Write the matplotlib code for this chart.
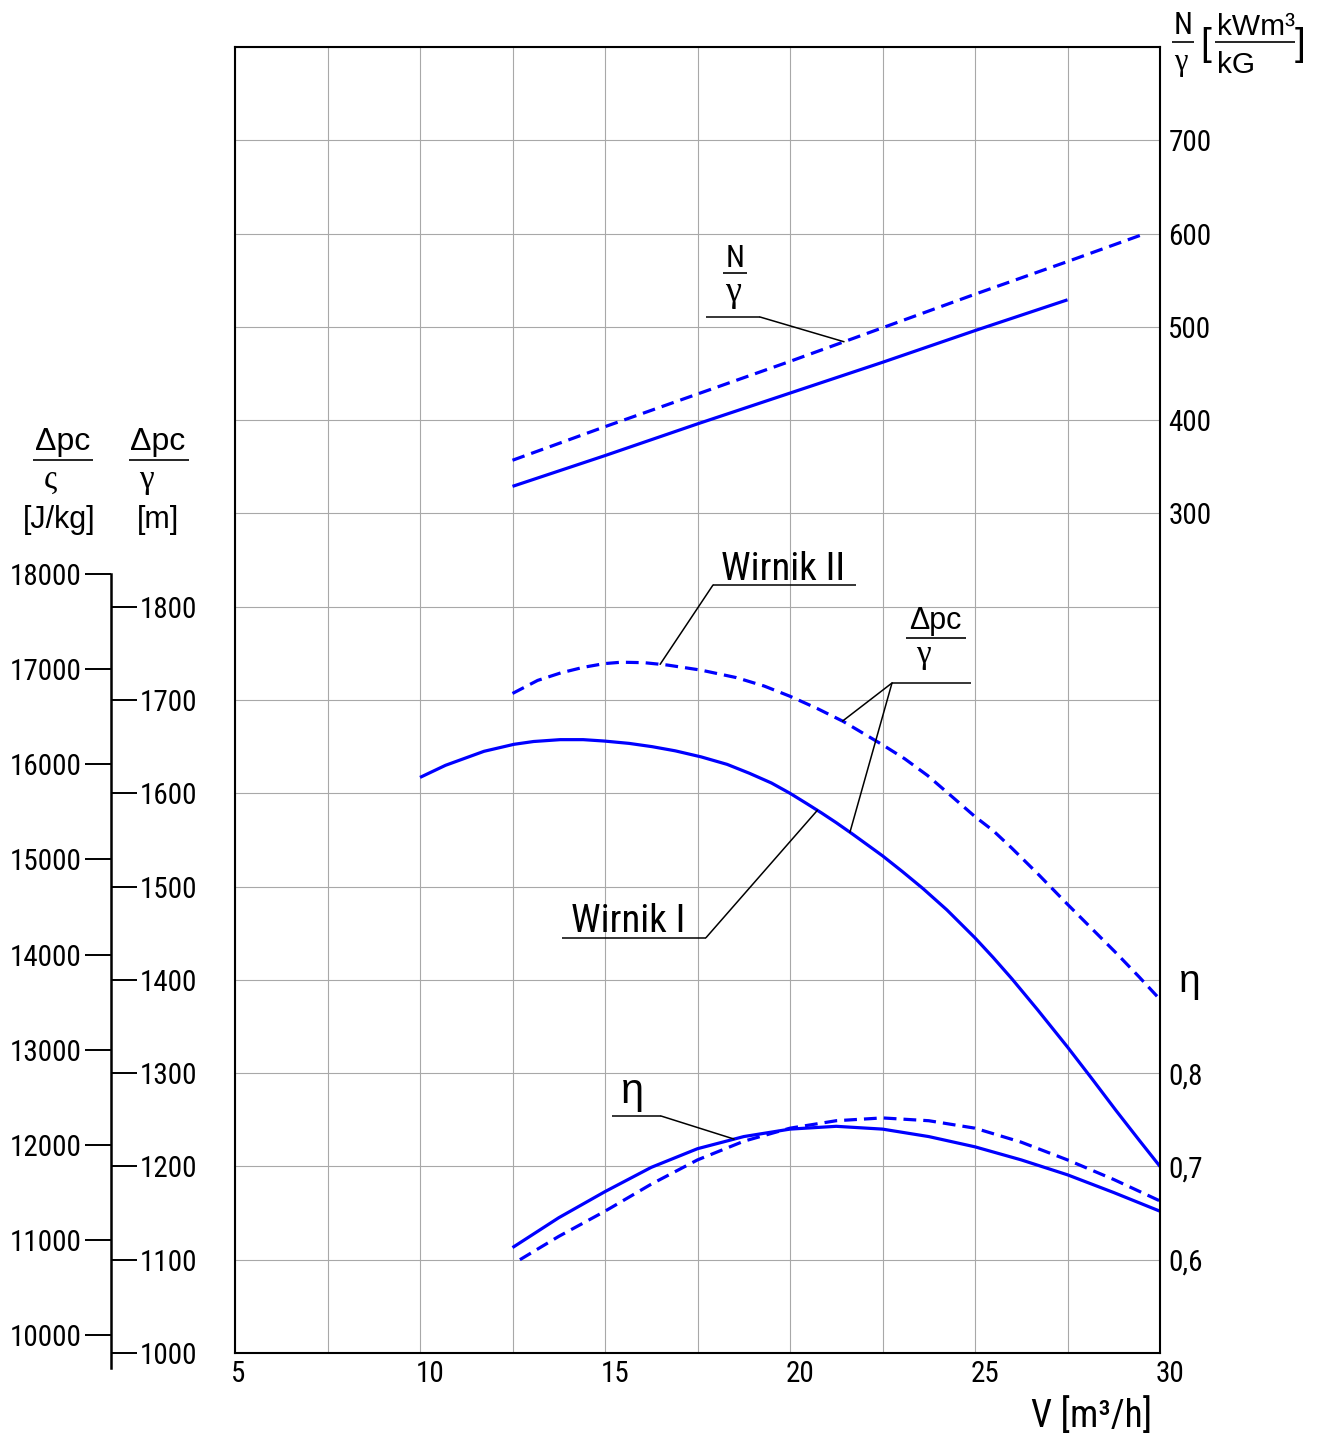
"""
Pump characteristic: head, N/gamma and efficiency vs. flow rate, two impellers.
"""

import matplotlib
matplotlib.use("Agg")
import matplotlib.pyplot as plt
import numpy as np
from matplotlib import font_manager
from matplotlib.lines import Line2D
from matplotlib.transforms import ScaledTranslation

WIDTH_PX, HEIGHT_PX = 1319, 1437
DPI = 100
BLUE = "#0000ff"
G = 9.81

# flow rate V [m3/h] and head dpc/gamma [m]
V_HEAD_I = [10.0, 10.69, 11.73, 12.54, 13.07, 13.79, 14.41, 14.98, 15.65, 16.27, 16.9, 17.6, 18.3, 18.9,
            19.5, 20.0, 20.45, 20.85, 21.25, 21.7, 22.1, 22.5, 23.04, 23.59, 24.24, 25.0, 25.49, 26.0,
            26.69, 27.5, 28.18, 28.81, 29.44, 30.0]
HEAD_I = [1617, 1630, 1645, 1652.5, 1655.5, 1657.5, 1657.5, 1656, 1653.5, 1650, 1645.5, 1639, 1631, 1621.5,
          1611, 1600, 1589, 1579, 1568.5, 1556, 1544.5, 1533, 1516, 1498, 1475, 1445, 1424, 1401,
          1368, 1328, 1293, 1260, 1228, 1200]
V_HEAD_II = [12.5, 13.18, 13.8, 14.41, 14.98, 15.44, 16.06, 16.68, 17.6, 18.55, 19.3, 20.0, 20.73, 21.44,
             22.5, 23.1, 23.72, 24.42, 25.0, 25.49, 26.0, 26.69, 27.5, 28.18, 28.81, 29.44, 30.0]
HEAD_II = [1707, 1721, 1729, 1735, 1739, 1740.5, 1740, 1737.5, 1732, 1724, 1715, 1704, 1691, 1677,
           1652, 1637, 1619, 1595, 1575, 1560, 1541, 1514, 1481, 1454, 1429, 1403, 1379]

# N/gamma [kWm3/kG]
V_POWER_I = [12.5, 15, 17.5, 20, 22.5, 25, 27.5]
POWER_I = [329, 362, 396, 429, 462, 496, 529]
V_POWER_II = [12.5, 15, 17.5, 20, 22.5, 25, 27.5, 29.6]
POWER_II = [357, 393, 428, 463, 499, 535, 570, 600]

# efficiency eta
V_EFF_I = [12.5, 13.75, 15, 16.25, 17.5, 18.75, 20, 21.25, 22.5, 23.75, 25, 26.25, 27.5, 28.75, 30]
EFF_I = [0.613, 0.645, 0.673, 0.699, 0.719, 0.732, 0.740, 0.743, 0.740, 0.732, 0.721, 0.707, 0.691, 0.672, 0.652]
V_EFF_II = [12.7, 13.75, 15, 16.25, 17.5, 18.75, 20, 21.25, 22.5, 23.75, 25, 26.25, 27.5, 28.75, 30]
EFF_II = [0.600, 0.625, 0.652, 0.681, 0.707, 0.727, 0.741, 0.749, 0.752, 0.749, 0.741, 0.726, 0.707, 0.686, 0.663]

X_TICKS = [5, 10, 15, 20, 25, 30]
HEAD_M_TICKS = [1000, 1100, 1200, 1300, 1400, 1500, 1600, 1700, 1800]
HEAD_J_TICKS = [10000, 11000, 12000, 13000, 14000, 15000, 16000, 17000, 18000]
POWER_TICKS = [300, 400, 500, 600, 700]
EFF_TICKS = [0.6, 0.7, 0.8]
EFF_LABELS = ["0,6", "0,7", "0,8"]

# the N/gamma and eta scales share the head grid
POWER_OFFSET = 1600.0
EFF_SCALE, EFF_OFFSET = 1000.0, 500.0

available = {f.name for f in font_manager.fontManager.ttflist}
NARROW = next((name for name in ["Roboto Condensed", "Liberation Sans Narrow", "Archivo Narrow", "PT Sans Narrow"]
               if name in available), "Liberation Sans")
SANS = "Liberation Sans"
SERIF = "Liberation Serif"
TICK_SIZE = 21 if NARROW != SANS else 18.5


def fx(x):
    return x / WIDTH_PX


def fy(y):
    return 1 - y / HEIGHT_PX


def hline(fig, x0, x1, y, lw=1.1):
    fig.add_artist(Line2D([fx(x0), fx(x1)], [fy(y), fy(y)], transform=fig.transFigure,
                          color="black", lw=lw, solid_capstyle="butt"))


def leader(ax, start, v, values_v, values_y):
    y = float(np.interp(v, values_v, values_y))
    ax.annotate("", xy=(v, y), xycoords="data", xytext=(fx(start[0]), fy(start[1])),
                textcoords="figure fraction",
                arrowprops=dict(arrowstyle="-", color="black", lw=1.1, shrinkA=0, shrinkB=0))


def label(fig, x, y, text, size, family=SANS, ha="center"):
    fig.text(fx(x), fy(y), text, fontsize=size, family=family, ha=ha, va="baseline")


def main():
    plt.rcParams["font.family"] = [NARROW, "DejaVu Sans"]

    fig = plt.figure(figsize=(WIDTH_PX / DPI, HEIGHT_PX / DPI), dpi=DPI)
    ax = fig.add_axes([fx(235), fy(1353), fx(1160) - fx(235), fy(47) - fy(1353)])

    ax.set_xlim(5, 30)
    ax.set_ylim(1000, 2400)
    ax.set_xticks(X_TICKS)
    ax.set_xticks(np.arange(7.5, 30, 5), minor=True)
    ax.set_yticks(np.arange(1000, 2401, 100))
    ax.grid(True, which="both", color="#a8a8a8", lw=0.8)
    ax.set_axisbelow(True)
    ax.tick_params(axis="y", left=False, labelleft=False)
    ax.tick_params(axis="x", which="both", length=0, pad=5, labelsize=TICK_SIZE)
    shift = ScaledTranslation(-4 / DPI, 0, fig.dpi_scale_trans)
    for lab in ax.get_xticklabels():
        lab.set_horizontalalignment("left")
        lab.set_transform(lab.get_transform() + shift)
    for spine in ax.spines.values():
        spine.set_linewidth(1.5)

    ax.set_xlabel("V [m³/h]", fontsize=27, loc="right")
    ax.xaxis.set_label_coords((1152 - 235) / 925, -0.034)

    # curves
    eff_i = [e * EFF_SCALE + EFF_OFFSET for e in EFF_I]
    eff_ii = [e * EFF_SCALE + EFF_OFFSET for e in EFF_II]
    power_i = [p + POWER_OFFSET for p in POWER_I]
    power_ii = [p + POWER_OFFSET for p in POWER_II]
    solid = dict(color=BLUE, lw=2.3, solid_capstyle="butt", solid_joinstyle="round")
    dashed = dict(color=BLUE, lw=2.3, ls=(0, (4, 2.2)), dash_capstyle="butt")
    ax.plot(V_HEAD_I, HEAD_I, **solid)
    ax.plot(V_HEAD_II, HEAD_II, **dashed)
    ax.plot(V_POWER_I, power_i, **solid)
    ax.plot(V_POWER_II, power_ii, **dashed)
    ax.plot(V_EFF_I, eff_i, **solid)
    ax.plot(V_EFF_II, eff_ii, **dashed)

    # left scales: J/kg (ticks left) and m (ticks right) on one line
    loc = (111 - 235) / 925
    sec_j = ax.secondary_yaxis(loc, functions=(lambda m: m * G, lambda j: j / G))
    sec_j.set_yticks(HEAD_J_TICKS)
    sec_j.tick_params(axis="y", direction="out", length=19, width=1.4, pad=2, labelsize=TICK_SIZE)
    sec_j.spines["left"].set_linewidth(1.8)
    sec_j.spines["left"].set_bounds(9650, 18000)

    sec_m = ax.secondary_yaxis(loc)
    sec_m.set_alignment("right")
    sec_m.set_yticks(HEAD_M_TICKS)
    sec_m.tick_params(axis="y", direction="out", length=19, width=1.4, pad=2, labelsize=TICK_SIZE)
    sec_m.spines["right"].set_visible(False)

    # right scales
    sec_n = ax.secondary_yaxis("right", functions=(lambda m: m - POWER_OFFSET, lambda n: n + POWER_OFFSET))
    sec_n.set_yticks(POWER_TICKS)
    sec_n.tick_params(axis="y", length=0, pad=6, labelsize=TICK_SIZE)
    sec_n.spines["right"].set_visible(False)

    sec_e = ax.secondary_yaxis("right", functions=(lambda m: (m - EFF_OFFSET) / EFF_SCALE,
                                                   lambda e: e * EFF_SCALE + EFF_OFFSET))
    sec_e.set_yticks(EFF_TICKS, EFF_LABELS)
    sec_e.tick_params(axis="y", length=0, pad=6, labelsize=TICK_SIZE)
    sec_e.spines["right"].set_visible(False)

    label(fig, 1190, 992, "η", 28)

    # header of the N/gamma scale
    label(fig, 1183, 34, "N", 22, NARROW)
    hline(fig, 1172, 1194, 41.7, lw=1.2)
    label(fig, 1181, 70, "γ", 22, SERIF)
    label(fig, 1206, 55, "[", 28)
    label(fig, 1256, 35, "kWm³", 21.5)
    hline(fig, 1215, 1295, 42.3, lw=1.2)
    label(fig, 1236, 73, "kG", 21.5)
    label(fig, 1300, 55, "]", 28)

    # headers of the left scales
    label(fig, 63, 450, "Δpc", 23)
    hline(fig, 33, 93, 460, lw=1.2)
    label(fig, 50, 488, "ς", 24, SERIF)
    label(fig, 59, 528, "[J/kg]", 22)
    label(fig, 158, 450, "Δpc", 23)
    hline(fig, 129, 189, 460, lw=1.2)
    label(fig, 146, 488, "γ", 24, SERIF)
    label(fig, 158, 528, "[m]", 22)

    # N/gamma annotation
    label(fig, 735, 267, "N", 22, NARROW)
    hline(fig, 723, 746.5, 273.3, lw=1.2)
    label(fig, 733, 301, "γ", 26, SERIF)
    hline(fig, 706, 760, 317)
    leader(ax, (760, 317), 21.46, V_POWER_II, power_ii)

    # Wirnik II
    label(fig, 783, 580, "Wirnik II", 28, NARROW)
    hline(fig, 713, 856, 585)
    leader(ax, (713, 585), 16.49, V_HEAD_II, HEAD_II)

    # dpc/gamma annotation
    label(fig, 935, 629.3, "Δpc", 22)
    hline(fig, 906, 966, 638.3, lw=1.2)
    label(fig, 923, 663, "γ", 24, SERIF)
    hline(fig, 892, 971, 683)
    leader(ax, (892, 683), 21.42, V_HEAD_II, HEAD_II)
    leader(ax, (892, 683), 21.62, V_HEAD_I, HEAD_I)

    # Wirnik I
    label(fig, 628, 932, "Wirnik I", 28, NARROW)
    hline(fig, 562, 706, 937.7)
    leader(ax, (706, 937.7), 20.74, V_HEAD_I, HEAD_I)

    # eta annotation
    label(fig, 632, 1103, "η", 30)
    hline(fig, 612, 661, 1116)
    leader(ax, (661, 1116), 18.49, V_EFF_I, eff_i)

    fig.savefig("out.png", dpi=DPI)
    plt.close(fig)


if __name__ == "__main__":
    main()
